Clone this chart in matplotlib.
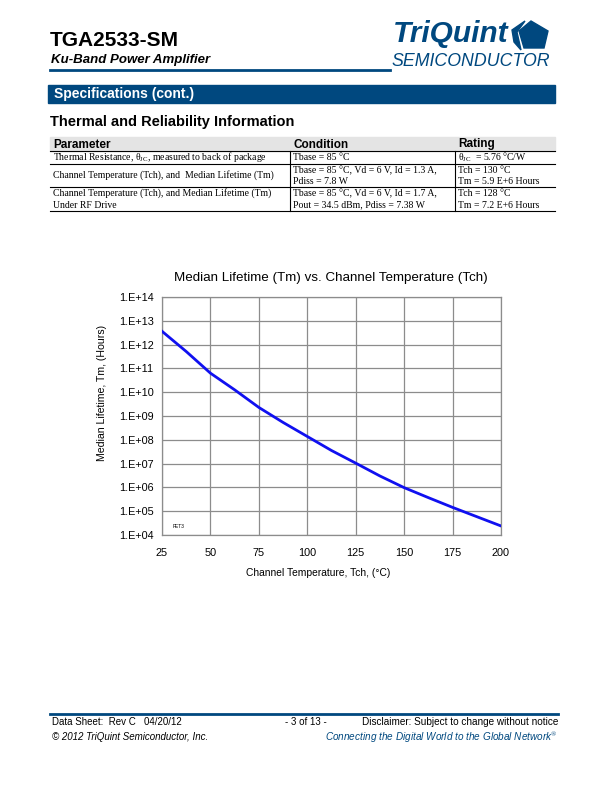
"""
plot.py
-------
TGA2533-SM datasheet page 3: thermal table and median lifetime vs channel temperature.
"""

import math
import matplotlib
matplotlib.use("Agg")
import matplotlib.pyplot as plt
from matplotlib.patches import Rectangle, Polygon
from matplotlib.lines import Line2D
from matplotlib.ticker import FixedLocator, FuncFormatter

# --- data ---
tch = [25, 37.5, 50, 62.5, 75, 87.5, 100, 112.5, 125, 137.5, 150, 162.5, 175, 187.5, 200]
log_tm = [12.56, 11.71, 10.80, 10.10, 9.36, 8.73, 8.14, 7.55, 7.02, 6.48, 5.99, 5.57, 5.16, 4.77, 4.38]
x_ticks = [25, 50, 75, 100, 125, 150, 175, 200]
y_decades = list(range(4, 15))

table_header = ["Parameter", "Condition", "Rating"]
table_rows = [
    (["Thermal Resistance, θ$_{\\mathrm{JC}}$, measured to back of package"],
     ["Tbase = 85 °C"],
     ["θ$_{\\mathrm{JC}}$  = 5.76 °C/W"]),
    (["Channel Temperature (Tch), and  Median Lifetime (Tm)"],
     ["Tbase = 85 °C, Vd = 6 V, Id = 1.3 A,", "Pdiss = 7.8 W"],
     ["Tch = 130 °C", "Tm = 5.9 E+6 Hours"]),
    (["Channel Temperature (Tch), and Median Lifetime (Tm)", "Under RF Drive"],
     ["Tbase = 85 °C, Vd = 6 V, Id = 1.7 A,", "Pout = 34.5 dBm, Pdiss = 7.38 W"],
     ["Tch = 128 °C", "Tm = 7.2 E+6 Hours"]),
]

W, H = 612, 792
NAVY = "#00487f"
SANS = "Liberation Sans"
SERIF = "Liberation Serif"

plt.rcParams["mathtext.fontset"] = "custom"
plt.rcParams["mathtext.rm"] = SERIF
plt.rcParams["mathtext.it"] = SERIF + ":italic"

fig = plt.figure(figsize=(W / 100, H / 100), dpi=100)


def fx(x):
    return x / W


def fy(y):
    return 1 - y / H


def txt(x, y, s, **kw):
    kw.setdefault("family", SANS)
    kw.setdefault("va", "center")
    fig.text(fx(x), fy(y), s, **kw)


def hline(x0, x1, y, color="black", lw=0.8):
    fig.add_artist(Line2D([fx(x0), fx(x1)], [fy(y), fy(y)], color=color, lw=lw,
                          transform=fig.transFigure))


def vline(x, y0, y1, color="black", lw=0.8):
    fig.add_artist(Line2D([fx(x), fx(x)], [fy(y0), fy(y1)], color=color, lw=lw,
                          transform=fig.transFigure))


def rect(x0, y0, x1, y1, color):
    fig.add_artist(Rectangle((fx(x0), fy(y1)), fx(x1) - fx(x0), fy(y0) - fy(y1),
                             color=color, transform=fig.transFigure, zorder=0))


# --- header ---
txt(50, 41, "TGA2533-SM", fontsize=15, weight="bold")
txt(51, 60, "Ku-Band Power Amplifier", fontsize=9.5, weight="bold", style="italic")
hline(50, 390, 69.5, color=NAVY, lw=2)
txt(393, 34, "TriQuint", fontsize=21.5, weight="bold", style="italic", color=NAVY)
txt(392, 61, "SEMICONDUCTOR", fontsize=12.8, style="italic", color=NAVY)
fig.add_artist(Polygon([(fx(531), fy(21)), (fx(548), fy(31)), (fx(544), fy(48)),
                        (fx(524), fy(48)), (fx(519), fy(31))],
                       closed=True, color=NAVY, transform=fig.transFigure))
fig.add_artist(Polygon([(fx(512), fy(30)), (fx(525), fy(21)), (fx(517), fy(32)),
                        (fx(521), fy(50)), (fx(514), fy(42))],
                       closed=True, color=NAVY, transform=fig.transFigure))

# --- section bar ---
rect(48, 85, 555, 103, NAVY)
txt(54, 94, "Specifications (cont.)", fontsize=10, weight="bold", color="white")
txt(50, 122, "Thermal and Reliability Information", fontsize=10.5, weight="bold")

# --- table ---
cols = [50, 290, 455, 555]
row_y = [137, 151, 164, 187, 211]
rect(50, row_y[0], 555, row_y[1], "#e4e4e4")
for c, h in zip(cols[:3], table_header):
    txt(c + 3, 144.5, h, fontsize=8.5, weight="bold")
for y in row_y[1:]:
    hline(50, 555, y, lw=0.8)
for c in cols[1:3]:
    vline(c, row_y[1], row_y[-1], lw=0.8)
for i, row in enumerate(table_rows):
    top = row_y[i + 1]
    for c, lines in zip(cols[:3], row):
        n = len(lines)
        if i == 1 and n == 1:
            ys = [(top + row_y[i + 2]) / 2]
        else:
            ys = [top + 6.5 + 11.5 * k for k in range(n)]
        for yy, s in zip(ys, lines):
            txt(c + 3, yy, s, fontsize=7, family=SERIF)

# --- chart ---
ax = fig.add_axes([fx(162), fy(535), fx(501) - fx(162), fy(297) - fy(535)])
ax.semilogy(tch, [10 ** v for v in log_tm], color="#1010f0", lw=2, zorder=3)
ax.set_xlim(25, 200)
ax.set_ylim(1e4, 1e14)
ax.xaxis.set_major_locator(FixedLocator(x_ticks))
ax.yaxis.set_major_locator(FixedLocator([10.0 ** d for d in y_decades]))
ax.yaxis.set_minor_locator(FixedLocator([]))
ax.yaxis.set_major_formatter(FuncFormatter(lambda v, p: "1.E+%02d" % round(math.log10(v))))
ax.grid(True, color="#8c8c8c", lw=0.9)
for s in ax.spines.values():
    s.set_color("#8c8c8c")
    s.set_linewidth(0.9)
ax.tick_params(length=0, pad=6, labelsize=7.8)
ax.tick_params(axis="x", pad=9)
for lab in ax.get_xticklabels() + ax.get_yticklabels():
    lab.set_family(SANS)
ax.text(0.03, 0.03, "FET3", transform=ax.transAxes, fontsize=3.5, family=SANS)

txt(331, 278, "Median Lifetime (Tm) vs. Channel Temperature (Tch)", fontsize=9.6, ha="center")
txt(318, 573, "Channel Temperature, Tch, (°C)", fontsize=7.4, ha="center")
txt(102, 393, "Median Lifetime, Tm, (Hours)", fontsize=7.6, ha="center", rotation=90)

# --- footer ---
hline(50, 558, 713.5, color=NAVY, lw=2)
txt(52, 722, "Data Sheet:  Rev C   04/20/12", fontsize=7)
txt(306, 722, "- 3 of 13 -", fontsize=7, ha="center")
txt(558, 722, "Disclaimer: Subject to change without notice", fontsize=7.2, ha="right")
txt(52, 737, "© 2012 TriQuint Semiconductor, Inc.", fontsize=7, style="italic")
txt(558, 737, "Connecting the Digital World to the Global Network$^{®}$", fontsize=7.2,
    style="italic", color=NAVY, ha="right")

plt.savefig("out.png", dpi=100)
plt.close()
